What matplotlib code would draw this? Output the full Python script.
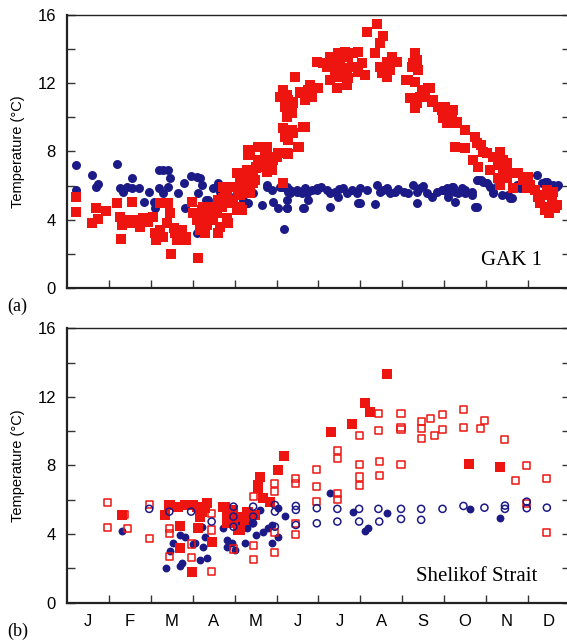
import matplotlib
matplotlib.use("Agg")
import matplotlib.pyplot as plt
from matplotlib.ticker import MultipleLocator, FixedLocator

# time axis in months since 1 Jan (0..12)
months = ["J", "F", "M", "A", "M", "J", "J", "A", "S", "O", "N", "D"]

# GAK 1: near-bottom temperatures (navy circles)
gak_deep_m = [0.21, 0.21, 0.6, 0.69, 0.74, 1.2, 1.26, 1.33, 1.43, 1.55, 1.72, 1.55, 1.84, 1.96,
              2.07, 2.1, 2.19, 2.29, 2.41, 2.19, 2.29, 2.41, 2.45, 2.65, 2.79, 2.81, 2.96, 3.1,
              3.17, 3.22, 3.13, 3.1, 3.31, 3.36, 3.49, 3.6, 3.65, 3.72, 3.89, 4.2, 4.29, 4.32,
              4.44, 4.65, 4.77, 4.77, 4.89, 4.92, 5.04, 5.08, 5.16, 5.25, 5.25, 5.25, 5.32, 5.32,
              5.49, 5.61, 5.66, 5.75, 5.85, 5.96, 5.18,
              5.12, 5.28, 5.48, 5.68, 5.72, 5.96, 6.20, 6.27, 6.39, 6.47, 6.59, 6.67, 6.79, 6.91,
              7.15, 6.95, 7.39, 7.47, 7.63, 7.71, 7.83, 8.14, 8.26, 8.34, 8.42, 8.58, 8.70, 8.82,
              8.98, 9.10, 9.18, 9.26, 9.42, 9.50, 9.66, 9.81, 9.93, 10.09, 10.17, 10.37, 10.57,
              10.65, 10.81, 11.01, 11.21, 11.41, 11.57, 11.68,
              5.24, 5.64, 6.27, 6.99, 7.35, 8.34, 9.26, 9.78,
              8.94, 9.06, 9.22, 9.34, 9.50, 9.66, 9.78, 9.89, 10.01, 10.17, 10.29, 10.53, 10.61,
              10.73, 10.89, 11.33, 11.45, 11.6, 11.72, 9.73, 9.1,
              6.05, 6.5, 7.0, 7.55, 7.9, 8.05, 8.5]
gak_deep_t = [7.2, 5.75, 6.6, 5.9, 6.1, 7.25, 5.85, 5.6, 5.9, 5.85, 5.85, 6.45, 5.05, 5.6,
              5.05, 4.7, 6.9, 6.9, 6.9, 5.85, 5.55, 5.9, 6.45, 5.55, 6.15, 4.7, 6.55, 6.5,
              6.45, 6.05, 5.55, 3.25, 5.15, 5.15, 5.85, 6.15, 5.6, 5.9, 5.35, 5.15, 5.0, 5.0,
              5.55, 4.85, 5.9, 6.05, 5.75, 5.05, 4.7, 5.9, 5.9, 5.9, 5.15, 4.7, 5.55, 5.75,
              5.6, 5.55, 4.7, 5.15, 5.75, 5.85, 3.45,
              5.94, 5.65, 5.74, 5.84, 5.55, 5.74, 5.74, 5.55, 5.65, 5.35, 5.84, 5.55, 5.74, 5.55,
              5.74, 4.96, 6.04, 5.65, 5.84, 5.55, 5.65, 5.55, 6.04, 5.65, 5.84, 5.55, 5.35, 5.65,
              5.74, 5.55, 5.94, 5.65, 5.84, 5.55, 5.45, 6.33, 6.23, 5.94, 5.55, 5.45, 5.26,
              5.94, 5.84, 6.04, 6.62, 6.23, 5.94, 5.94,
              4.67, 4.67, 4.77, 4.96, 4.92, 5.0, 5.06, 4.73,
              5.74, 5.84, 5.94, 5.55, 5.74, 5.65, 6.33, 6.33, 6.14, 5.65, 6.04, 5.45, 5.26,
              6.04, 5.94, 6.14, 6.23, 6.04, 6.04, 4.77, 5.35,
              5.9, 5.8, 5.85, 5.75, 5.8, 5.6, 5.95]

# GAK 1: surface temperatures (red squares)
gak_sfc_m = [0.21, 0.21, 0.6, 0.69, 0.74, 0.93, 1.2, 1.26, 1.31, 1.43, 1.55, 1.67, 1.74, 1.29, 1.55,
             1.82, 1.94, 2.06, 2.10, 2.12, 2.22, 2.30, 2.38, 2.42, 2.22, 2.46, 2.54, 2.58, 2.62,
             2.74, 2.83, 2.85, 2.48,
             2.97, 3.01, 3.09, 3.17, 3.21, 3.25, 3.33, 3.37, 3.29, 3.49, 3.57, 3.61, 3.65, 3.73,
             3.77, 3.81, 3.85, 3.93, 3.97, 3.12,
             4.05, 4.13, 4.13, 4.29, 4.32, 4.37, 4.44, 4.48, 4.32, 4.32, 4.52,
             4.56, 4.64, 4.72, 4.76, 4.80, 4.88, 4.92, 5.00,
             5.08, 5.16, 5.20, 5.24, 5.28, 5.32, 5.36, 5.40, 5.16, 5.20, 5.44, 5.40, 5.28, 5.16,
             5.40, 5.56, 5.64, 5.68, 5.76, 5.80, 5.84, 5.88, 5.96, 5.68, 5.24, 5.28, 5.54,
             4.37, 4.60, 4.80, 4.56, 4.68, 4.88, 5.04, 5.24, 4.52, 4.76, 4.92,
             4.37, 4.44, 4.13, 4.21, 3.97, 4.09, 4.25, 3.73, 3.81, 3.65, 3.69, 3.89, 4.13, 3.57,
             3.49, 3.41, 3.25, 3.33, 3.13, 3.81, 3.61, 4.05, 4.17,
             5.24, 5.36, 5.52, 5.64, 5.80, 5.92, 5.72, 5.56,
             7.39, 7.15, 7.55, 7.47, 7.35, 7.75, 7.87, 7.63, 7.47, 7.51, 7.63, 7.71, 8.30, 8.34,
             8.22, 8.38, 8.14, 8.30, 8.18, 8.34, 8.46, 8.66, 8.54, 8.70, 8.86, 8.94, 8.98, 8.30,
             6.0, 6.2, 6.27, 6.35, 6.47, 6.63, 6.71, 6.83, 6.95, 7.03, 6.95, 7.11, 6.79, 6.51,
             6.67, 6.39, 6.47, 6.27, 6.43, 6.67, 6.71, 6.55, 6.11,
             8.26, 8.10, 8.30, 8.42, 8.50, 8.62, 8.74, 9.02, 9.10, 9.18, 9.22, 9.30,
             9.06, 9.30, 9.5, 9.73, 9.26, 9.5, 9.78, 9.89, 9.93, 9.69, 10.01, 10.17, 10.33, 10.41,
             10.29, 10.49, 9.81, 10.09, 10.41, 10.57, 10.77, 10.29, 10.49, 10.33, 10.65, 10.89,
             11.01, 11.05, 10.97, 11.17, 11.25, 11.37, 11.45, 11.6, 11.29, 11.45, 11.57, 11.69,
             11.41, 11.49, 11.65]
gak_sfc_t = [5.35, 4.45, 3.8, 4.7, 4.05, 4.5, 5.0, 4.17, 3.7, 4.0, 3.8, 4.0, 3.6, 2.9, 5.05,
             4.09, 3.89, 4.18, 3.2, 2.81, 3.4, 3.0, 3.79, 4.96, 4.96, 4.38, 3.5, 3.2, 2.81,
             3.4, 3.0, 2.81, 2.0,
             5.06, 4.38, 3.99, 3.4, 4.57, 4.77, 3.69, 4.18, 3.2, 4.38, 4.77, 5.16, 3.59, 5.26,
             5.74, 4.09, 3.79, 5.94, 5.16, 1.74,
             6.72, 5.45, 4.57, 6.92, 6.23, 5.55, 6.52, 6.33, 8.09, 7.8, 7.11,
             8.28, 7.5, 7.9, 8.28, 7.31, 6.92, 7.7, 7.7,
             11.21, 11.6, 10.63, 10.04, 11.02, 10.43, 9.26, 9.07, 9.36, 8.87, 12.39, 10.83, 7.85, 6.14,
             10.92, 11.51, 11.51, 11.02, 11.6, 11.9, 11.21, 11.7, 13.27, 9.46, 8.97, 8.68, 8.25,
             7.8, 8.28, 7.7, 7.5, 7.11, 7.11, 7.9, 7.9, 7.02, 6.82, 7.5,
             6.52, 6.14, 6.33, 5.94, 5.94, 5.55, 5.55, 5.94, 5.55, 5.16, 4.77, 4.96, 4.77, 4.38,
             3.99, 3.99, 3.79, 4.77, 4.18, 3.99, 3.2, 4.57, 4.57,
             11.31, 10.24, 8.29, 9.46, 11.8, 11.7, 11.51, 11.41,
             15.47, 15.02, 14.77, 14.34, 13.76, 13.56, 13.27, 13.27, 12.97, 12.58, 12.39, 12.78, 13.76, 13.37,
             12.97, 12.78, 12.19, 12.09, 11.12, 10.83, 11.51, 11.7, 11.21, 10.92, 10.63, 10.43, 9.95, 10.53,
             11.7, 12.97, 13.56, 13.37, 13.76, 13.85, 13.56, 13.76, 13.85, 13.17, 12.68, 12.49, 12.97, 13.17,
             12.88, 12.78, 12.39, 12.19, 11.7, 11.9, 12.29, 12.58, 13.17,
             13.17, 12.19, 10.63, 11.21, 11.6, 11.7, 11.02, 10.63, 10.14, 9.85, 10.43, 9.65,
             9.65, 9.75, 9.26, 8.87, 8.28, 8.19, 8.48, 8.38, 7.99, 7.5, 7.9, 7.7, 7.99, 7.5,
             7.21, 7.31, 7.11, 6.92, 6.82, 6.72, 6.72, 6.43, 6.43, 6.04, 5.84, 6.33,
             6.52, 6.04, 5.84, 5.74, 5.35, 5.45, 5.74, 5.65, 4.96, 4.77, 5.06, 4.86,
             4.57, 4.38, 4.67]

# Shelikof Strait: surface (squares) and deep (circles), filled vs open
shel_sfc_fill_m = [1.30, 2.44, 2.34, 2.69, 2.69, 2.65, 2.81, 2.97, 3.01, 2.46, 3.09, 3.29, 3.21,
                   3.13, 3.45, 3.33, 3.17, 3.77, 3.85, 3.81, 3.97, 4.13, 4.25, 4.32, 4.48, 3.73,
                   3.81, 3.89, 3.97, 4.17, 4.09, 4.29, 4.6, 4.56, 4.56, 4.68, 4.84, 5.04, 5.18,
                   6.30, 6.81, 7.11, 7.23, 7.64, 9.6, 10.33]
shel_sfc_fill_t = [5.12, 5.7, 5.12, 4.47, 3.17, 5.6, 5.7, 1.81, 5.7, 5.7, 5.6, 5.51, 5.31,
                   4.34, 3.56, 5.8, 5.02, 5.6, 5.12, 4.63, 4.83, 4.24, 4.83, 5.31, 5.12, 5.6,
                   5.02, 4.63, 5.41, 5.02, 4.24, 5.31, 7.35, 6.87, 6.67, 6.09, 5.89, 7.74, 8.58,
                   9.94, 10.39, 11.63, 11.14, 13.33, 8.09, 7.93]

shel_sfc_open_m = [0.96, 0.96, 1.38, 1.45, 1.96, 1.96, 2.44, 2.44, 2.44, 2.96, 2.96, 3.45, 3.45,
                   3.45, 3.97, 4.44, 4.44, 4.44, 4.96, 4.96, 4.96, 4.96, 5.46, 5.46, 5.46, 5.46,
                   5.96, 5.96, 5.96, 6.45, 6.45, 6.45, 6.45, 6.97, 6.97, 6.97, 6.97, 7.43, 7.43,
                   7.45, 7.45, 7.97, 7.97, 7.97, 7.97, 8.45, 8.45, 8.45, 8.68, 8.76, 8.96, 8.96,
                   9.46, 9.46, 9.87, 9.96, 10.45, 10.97, 10.71, 11.45, 11.45, 10.97]
shel_sfc_open_t = [5.86, 4.38, 5.12, 4.3, 5.74, 3.72, 4.34, 4.05, 2.68, 3.42, 2.63, 5.22, 4.24,
                   1.81, 3.13, 6.19, 3.33, 2.53, 6.93, 6.48, 4.09, 2.92, 7.26, 6.96, 4.63, 3.95,
                   7.78, 6.77, 5.89, 8.85, 8.42, 6.34, 6.03, 9.73, 8.07, 7.33, 6.85, 11.05, 10.02,
                   8.23, 7.41, 11.05, 10.23, 10.08, 8.07, 10.56, 10.13, 9.57, 10.76, 9.73, 10.99, 10.08,
                   11.28, 10.23, 10.17, 10.62, 9.49, 7.99, 7.12, 7.22, 4.08, 5.8]

shel_deep_fill_m = [1.30, 2.36, 2.46, 2.53, 2.69, 2.81, 2.69, 2.75, 3.01, 3.21, 3.29, 3.05, 3.25,
                    3.17, 3.33, 3.73, 3.81, 3.81, 3.93, 4.01, 4.05, 4.25, 4.29, 4.41, 4.6, 4.52,
                    4.68, 4.8, 4.88, 4.88, 5.04, 5.04, 5.2, 6.27, 6.82, 7.11, 7.19, 7.63, 9.62, 10.33]
shel_deep_fill_t = [4.18, 2.04, 3.02, 3.5, 3.95, 3.85, 2.14, 2.3, 3.42, 4.43, 3.85, 3.46, 3.27,
                    2.49, 2.59, 4.34, 3.66, 3.27, 3.46, 3.07, 4.63, 3.46, 4.34, 4.63, 5.41, 3.95,
                    4.14, 4.34, 4.53, 3.5, 3.85, 5.51, 5.06, 6.38, 5.31, 4.2, 4.34, 5.22, 5.47, 4.92]

shel_deep_open_m = [1.96, 2.44, 2.96, 3.45, 3.97, 3.97, 3.97, 4.44, 4.44, 4.44, 4.96, 4.96, 4.96,
                    5.46, 5.46, 5.46, 5.96, 5.96, 6.45, 6.45, 6.97, 6.97, 7.43, 7.45, 7.97, 7.97,
                    8.45, 8.45, 8.96, 9.46, 9.96, 10.45, 10.45, 10.97, 10.97, 11.45]
shel_deep_open_t = [5.47, 5.31, 5.31, 4.73, 5.6, 5.02, 4.43, 5.6, 5.02, 4.63, 5.7, 5.31, 4.43,
                    5.64, 5.41, 4.53, 5.51, 4.63, 5.47, 4.73, 5.47, 4.73, 5.47, 4.73, 5.47, 4.88,
                    5.47, 4.83, 5.47, 5.64, 5.54, 5.66, 5.47, 5.89, 5.51, 5.54]

RED = "#ee1510"
NAVY = "#1c1a86"

plt.rcParams["font.family"] = ["Liberation Sans", "DejaVu Sans"]

fig = plt.figure(figsize=(5.67, 6.4), dpi=100)
ax1 = fig.add_axes([0.1183, 0.55, 0.8868, 0.4266])
ax2 = fig.add_axes([0.1183, 0.0583, 0.8868, 0.4288])


def style_axes(ax, show_months):
    ax.set_xlim(0, 12)
    ax.set_ylim(0, 16)
    ax.yaxis.set_major_locator(MultipleLocator(4))
    ax.yaxis.set_minor_locator(MultipleLocator(2))
    ax.xaxis.set_major_locator(FixedLocator(range(1, 12)))
    ax.xaxis.set_minor_locator(FixedLocator([m + 0.5 for m in range(12)]))
    ax.tick_params(axis="y", which="both", direction="in", length=6, width=1,
                   right=True, labelsize=12, pad=8, color="#333333")
    ax.tick_params(axis="x", which="major", direction="in", length=6, width=1,
                   labelbottom=False, color="#333333")
    if show_months:
        ax.xaxis.set_minor_formatter(plt.FixedFormatter(months))
        ax.tick_params(axis="x", which="minor", length=0, labelsize=12, pad=8)
    else:
        ax.tick_params(axis="x", which="minor", length=0, labelbottom=False)
    for side in ("left", "bottom"):
        ax.spines[side].set_linewidth(1.6)
    for side in ("top", "right"):
        ax.spines[side].set_linewidth(1.0)
    for sp in ax.spines.values():
        sp.set_color("#222222")
    ax.set_ylabel("Temperature (°C)", fontsize=10.5, labelpad=6)
    ax.yaxis.set_label_coords(-0.083, 0.5)


# upper panel: GAK 1
ax1.scatter(gak_deep_m, gak_deep_t, s=42, marker="o", color=NAVY, linewidths=0, zorder=2)
ax1.scatter(gak_sfc_m, gak_sfc_t, s=50, marker="s", color=RED, linewidths=0, zorder=3)
style_axes(ax1, False)
ax1.text(0.944, 0.084, "GAK 1", transform=ax1.transAxes, ha="right", va="baseline",
         fontsize=15, family="Liberation Serif")

# lower panel: Shelikof Strait
ax2.scatter(shel_deep_fill_m, shel_deep_fill_t, s=32, marker="o", color=NAVY,
            linewidths=0, zorder=2)
ax2.scatter(shel_sfc_fill_m, shel_sfc_fill_t, s=44, marker="s", color=RED,
            linewidths=0, zorder=3)
ax2.scatter(shel_sfc_open_m, shel_sfc_open_t, s=26, marker="s", facecolors="none",
            edgecolors=RED, linewidths=1.1, zorder=4)
ax2.scatter(shel_deep_open_m, shel_deep_open_t, s=26, marker="o", facecolors="none",
            edgecolors=NAVY, linewidths=1.1, zorder=5)
style_axes(ax2, True)
ax2.text(0.936, 0.08, "Shelikof Strait", transform=ax2.transAxes, ha="right",
         va="baseline", fontsize=15, family="Liberation Serif")

fig.text(0.012, 0.522, "(a)", fontsize=13, family="Liberation Serif", va="center")
fig.text(0.012, 0.013, "(b)", fontsize=13, family="Liberation Serif", va="center")

fig.savefig("out.png", dpi=100)
